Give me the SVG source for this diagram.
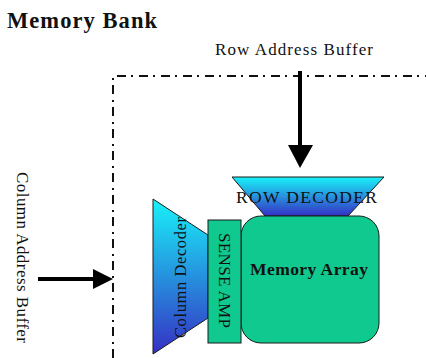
<svg xmlns="http://www.w3.org/2000/svg" width="426" height="358" viewBox="0 0 426 358">
<style>
.t{font-family:"Liberation Serif","Times New Roman",serif;fill:#111}
.b{font-weight:bold}
.sh{stroke:#1a1a1a;stroke-width:1}
.green{fill:#10c98f}
.arr{stroke:#000;stroke-width:4;fill:none}
</style>
<defs>
<linearGradient id="dec" x1="0" y1="0" x2="0" y2="1">
<stop offset="0" stop-color="#18f2f8"/>
<stop offset="1" stop-color="#3530c4"/>
</linearGradient>
</defs>
<rect width="426" height="358" fill="#fff"/>
<text class="t b" x="7" y="28" font-size="22.5" textLength="150" lengthAdjust="spacing">Memory Bank</text>
<g id="bank-border">
<path d="M113,358 L113,76 L426,76" fill="none" stroke="#111" stroke-width="2" stroke-dasharray="9 5 2 6"/>
</g>
<g id="row-address-buffer">
<text class="t" x="215" y="55" font-size="17" textLength="158" lengthAdjust="spacing">Row Address Buffer</text>
</g>
<g id="column-address-buffer">
<text class="t" transform="translate(22.5,257.5) rotate(90)" x="0" y="5.5" font-size="17" text-anchor="middle" textLength="171" lengthAdjust="spacing">Column Address Buffer</text>
</g>
<g id="column-decoder">
<polygon class="sh" points="153,199 208,235 208,318 153,354" fill="url(#dec)"/>
<text class="t" transform="translate(180,277.5) rotate(-90)" x="0" y="5.5" font-size="16.5" text-anchor="middle" textLength="121" lengthAdjust="spacing">Column Decoder</text>
</g>
<g id="row-decoder">
<polygon class="sh" points="232,177 384,177 348,216 265,216" fill="url(#dec)"/>
<text class="t" x="306.5" y="203" font-size="17.5" text-anchor="middle" textLength="141" lengthAdjust="spacing">ROW DECODER</text>
</g>
<g id="memory-array">
<rect class="sh green" x="241" y="216" width="138" height="127" rx="20" ry="20"/>
<text class="t b" x="309" y="275" font-size="17.5" text-anchor="middle" textLength="118" lengthAdjust="spacing">Memory Array</text>
</g>
<g id="sense-amp">
<rect class="sh green" x="208" y="220" width="33" height="123"/>
<text class="t" transform="translate(224.5,280.5) rotate(90)" x="0" y="6" font-size="17" text-anchor="middle" textLength="95" lengthAdjust="spacing">SENSE AMP</text>
</g>
<g id="connectors">
<line class="arr" x1="300" y1="71" x2="300" y2="147"/>
<polygon points="288,145 313,145 300,168" fill="#000"/>
<line class="arr" x1="38" y1="279" x2="95" y2="279"/>
<polygon points="93,269 113,279 93,289" fill="#000"/>
</g>
</svg>
